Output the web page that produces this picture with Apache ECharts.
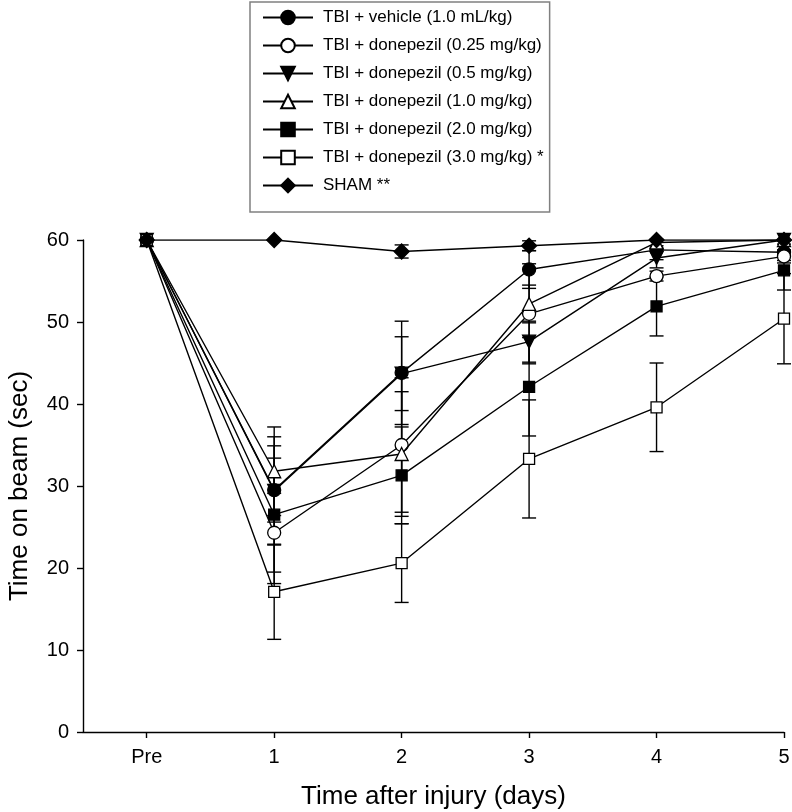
<!DOCTYPE html>
<html>
<head>
<meta charset="utf-8">
<script src="https://cdn.jsdelivr.net/npm/echarts@6/dist/echarts.min.js"></script>
<style>
html,body{margin:0;padding:0;background:#fff;}
#mychart{width:792px;height:812px;}
</style>
</head>
<body>
<div id="mychart"></div>
<script>
// x positions: Pre = 0, then days 1..5
var days = [0, 1, 2, 3, 4, 5];
var dayLabels = ['Pre', '1', '2', '3', '4', '5'];
var yTicks = [0, 10, 20, 30, 40, 50, 60];

var names = [
    'TBI + vehicle (1.0 mL/kg)',
    'TBI + donepezil (0.25 mg/kg)',
    'TBI + donepezil (0.5 mg/kg)',
    'TBI + donepezil (1.0 mg/kg)',
    'TBI + donepezil (2.0 mg/kg)',
    'TBI + donepezil (3.0 mg/kg) *',
    'SHAM **'
];

var vehicle    = [60, 29.5, 43.8, 56.4, 58.8, 58.5];
var vehicleSem = [0, 3.9, 6.3, 2.3, 1.2, 1.0];
var d025       = [60, 24.3, 35.0, 51.0, 55.6, 58.0];
var d025Sem    = [0, 4.8, 8.2, 6.1, 0.6, 0.8];
var d05        = [60, 29.4, 43.7, 47.6, 57.8, 60.0];
var d05Sem     = [0, 6.6, 4.5, 2.5, 1.2, 0];
var d10        = [60, 31.8, 33.9, 52.2, 59.7, 60.0];
var d10Sem     = [0, 5.4, 7.6, 2.3, 0.4, 0];
var d20        = [60, 26.5, 31.3, 42.1, 51.9, 56.3];
var d20Sem     = [0, 8.4, 5.9, 6.0, 3.6, 2.4];
var d30        = [60, 17.1, 20.6, 33.3, 39.6, 50.4];
var d30Sem     = [0, 5.8, 4.8, 7.2, 5.4, 5.5];
var sham       = [60, 60, 58.6, 59.3, 60, 60];
var shamSem    = [0, 0, 0.8, 0.6, 0, 0];

var means = [vehicle, d025, d05, d10, d20, d30, sham];
var sems = [vehicleSem, d025Sem, d05Sem, d10Sem, d20Sem, d30Sem, shamSem];
var symbols = ['circle', 'circle', 'triangle', 'triangle', 'rect', 'rect', 'diamond'];
var rotates = [0, 0, 180, 0, 0, 0, 0];
var fills = ['#000', '#fff', '#000', '#fff', '#000', '#fff', '#000'];
var sizes = [13, 13, 13, 13, 11, 11, 15];

var myChart = echarts.init(document.getElementById('mychart'));

function errRender(params, api) {
    var x = api.value(0);
    var p1 = api.coord([x, api.value(1)]);
    var p2 = api.coord([x, api.value(2)]);
    var w = 7;
    var st = {stroke: '#000', lineWidth: 1.4};
    return {
        type: 'group',
        children: [
            {type: 'line', shape: {x1: p1[0], y1: p1[1], x2: p2[0], y2: p2[1]}, style: st},
            {type: 'line', shape: {x1: p1[0] - w, y1: p1[1], x2: p1[0] + w, y2: p1[1]}, style: st},
            {type: 'line', shape: {x1: p2[0] - w, y1: p2[1], x2: p2[0] + w, y2: p2[1]}, style: st}
        ]
    };
}

var series = [];
for (var i = 0; i < means.length; i++) {
    var eb = [];
    for (var j = 0; j < days.length; j++) {
        if (sems[i][j] > 0) {
            eb.push([days[j], means[i][j] - sems[i][j], means[i][j] + sems[i][j]]);
        }
    }
    series.push({
        type: 'custom',
        renderItem: errRender,
        data: eb,
        z: 2,
        silent: true,
        animation: false
    });
}
for (var i = 0; i < means.length; i++) {
    var pts = [];
    for (var j = 0; j < days.length; j++) pts.push([days[j], means[i][j]]);
    series.push({
        name: names[i],
        type: 'line',
        data: pts,
        symbol: symbols[i],
        symbolRotate: rotates[i],
        symbolSize: sizes[i],
        showAllSymbol: true,
        lineStyle: {color: '#000', width: 1.4},
        itemStyle: {color: fills[i], borderColor: '#000', borderWidth: 1.3},
        z: 5 + i,
        animation: false
    });
}

option = null;
option = {
    backgroundColor: '#fff',
    textStyle: {fontFamily: 'Liberation Sans, Arial, sans-serif'},
    legend: {
        orient: 'vertical',
        left: 250,
        top: 2,
        padding: [7, 6, 18, 12],
        itemGap: 11,
        itemWidth: 50,
        itemHeight: 17,
        borderColor: '#808080',
        borderWidth: 1.5,
        data: names,
        textStyle: {fontSize: 17, color: '#000', padding: [0, 0, 0, 5]}
    },
    grid: {left: 83, right: 8, top: 240, bottom: 80, outerBoundsMode: 'none'},
    xAxis: {
        type: 'value',
        min: -0.5,
        max: 5,
        name: 'Time after injury (days)',
        nameLocation: 'middle',
        nameGap: 52,
        nameTextStyle: {fontSize: 26, color: '#000'},
        axisLine: {onZero: false, lineStyle: {color: '#000', width: 1.4}},
        axisTick: {show: true, length: 6, customValues: days, lineStyle: {color: '#000', width: 1.4}},
        axisLabel: {
            customValues: days,
            fontSize: 20, color: '#000', margin: 15,
            formatter: function (v) { return dayLabels[days.indexOf(v)]; }
        },
        splitLine: {show: false}
    },
    yAxis: {
        type: 'value',
        min: 0,
        max: 60,
        interval: 10,
        name: 'Time on beam (sec)',
        nameLocation: 'middle',
        nameGap: 50,
        nameTextStyle: {fontSize: 26, color: '#000'},
        axisLine: {show: true, onZero: false, lineStyle: {color: '#000', width: 1.4}},
        axisTick: {show: true, length: 6, lineStyle: {color: '#000', width: 1.4}},
        axisLabel: {
            fontSize: 20, color: '#000', margin: 14,
            formatter: function (v) { return yTicks.indexOf(v) >= 0 ? String(v) : ''; }
        },
        splitLine: {show: false}
    },
    series: series
};
if (option && typeof option === "object") {
    myChart.setOption(option, true);
}
</script>
</body>
</html>
